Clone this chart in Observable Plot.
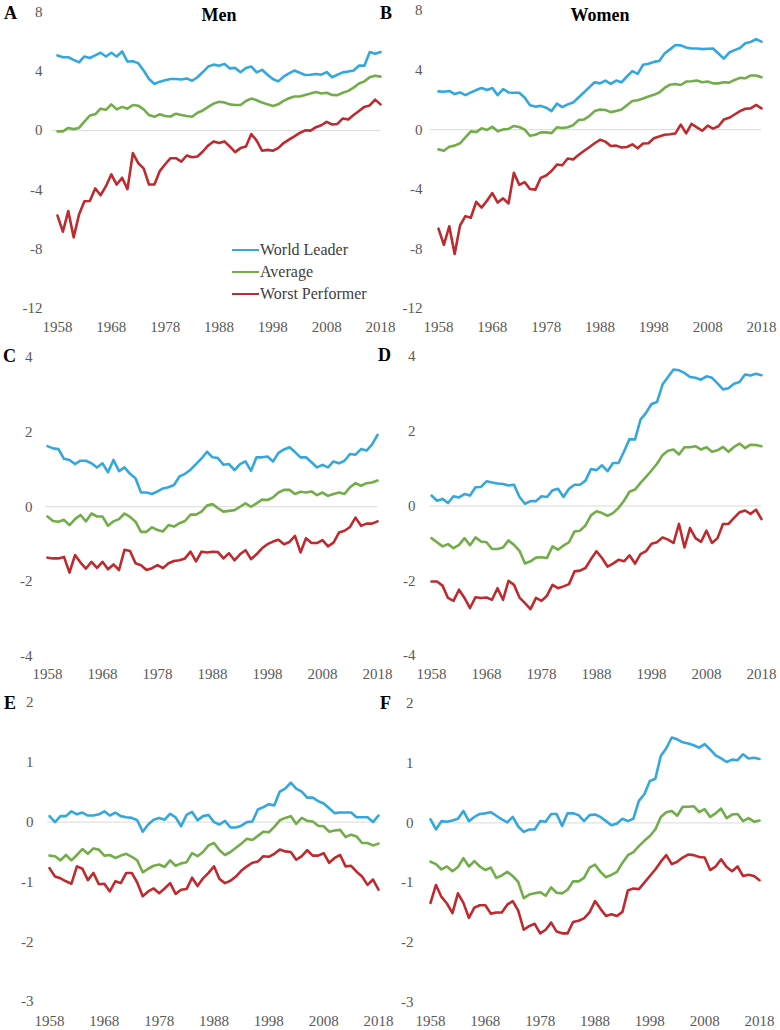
<!DOCTYPE html>
<html>
<head>
<meta charset="utf-8">
<script src="https://cdn.jsdelivr.net/npm/d3@7"></script>
<script src="https://cdn.jsdelivr.net/npm/@observablehq/plot@0.6"></script>
<style>
  body { margin: 0; background: #fff; }
  #wrap { position: relative; width: 780px; height: 1030px; font-family: "Liberation Serif", "Times New Roman", serif; overflow: hidden; }
  .abs { position: absolute; white-space: nowrap; }
  .letter { font-weight: bold; font-size: 18px; color: #000; line-height: 1; transform: translateY(-50%); }
  .title { font-weight: bold; font-size: 18px; color: #000; line-height: 1; transform: translate(-50%, -50%); }
  .leg { font-size: 16px; color: #404040; line-height: 1; transform: translateY(-50%); display: flex; align-items: center; }
  .sw { display: inline-block; width: 27px; height: 2.5px; margin-right: 1px; }
</style>
</head>
<body>
<div id="wrap"></div>
<script>
// ---------- data ----------
const years = d3.range(1958, 2019);
const xTicks = [1958, 1968, 1978, 1988, 1998, 2008, 2018];
const yTicksRow1 = [8, 4, 0, -4, -8, -12];
const yTicksRow2 = [4, 2, 0, -2, -4];
const yTicksRow3 = [2, 1, 0, -1, -2, -3];
const seriesNames = ["World Leader", "Average", "Worst Performer"];
const seriesColors = ["#34a7dc", "#72ad4a", "#be2a2e"];
const columnTitles = ["Men", "Women"];

// Panel A (Men)
const leaderA = [5.07,4.95,4.95,4.77,4.6,5.0,4.9,5.07,5.25,5.0, 5.25,5.0,5.34,4.66,4.68,4.55,4.05,3.48,3.14,3.3, 3.4,3.48,3.48,3.45,3.52,3.36,3.6,3.95,4.32,4.45, 4.38,4.5,4.2,4.23,3.93,4.23,4.32,3.93,4.1,3.77, 3.48,3.32,3.64,3.86,4.05,3.9,3.75,3.77,3.82,3.77, 3.95,3.6,3.77,3.93,3.98,4.05,4.38,4.38,5.3,5.18,5.3];
const averageA = [-0.05,-0.05,0.18,0.1,0.18,0.6,1.02,1.1,1.48,1.4, 1.77,1.43,1.6,1.48,1.73,1.68,1.43,1.05,0.93,1.1, 0.98,0.95,1.14,1.05,0.98,0.93,1.2,1.36,1.6,1.82, 1.95,1.89,1.77,1.73,1.73,2.0,2.16,2.05,1.89,1.77, 1.66,1.77,2.0,2.18,2.3,2.3,2.4,2.5,2.6,2.5, 2.55,2.4,2.39,2.55,2.68,2.9,3.18,3.32,3.6,3.7,3.64];
const worstA = [-5.73,-6.82,-5.43,-7.2,-5.66,-4.77,-4.75,-3.9,-4.36,-3.75, -2.95,-3.64,-3.18,-3.95,-1.52,-2.2,-2.55,-3.64,-3.64,-2.73, -2.27,-1.86,-1.86,-2.09,-1.68,-1.8,-1.75,-1.41,-1.0,-0.73, -0.84,-0.73,-1.07,-1.45,-1.18,-1.07,-0.23,-0.68,-1.36,-1.3, -1.36,-1.18,-0.84,-0.61,-0.39,-0.16,0.02,0.0,0.23,0.36, 0.59,0.41,0.45,0.82,0.75,1.05,1.32,1.6,1.7,2.09,1.77];

// Panel B (Women)
const leaderB = [2.57,2.55,2.6,2.39,2.5,2.32,2.5,2.66,2.8,2.66, 2.8,2.32,2.73,2.5,2.48,2.48,2.16,1.64,1.55,1.6, 1.48,1.25,1.75,1.52,1.7,1.82,2.16,2.5,2.84,3.18, 3.11,3.3,3.07,3.3,3.18,3.57,3.93,3.75,4.36,4.43, 4.55,4.61,5.11,5.39,5.68,5.66,5.52,5.45,5.45,5.41, 5.43,5.45,5.11,4.77,5.18,5.34,5.48,5.8,5.89,6.07,5.91];
const averageB = [-1.32,-1.41,-1.14,-1.07,-0.91,-0.52,-0.11,-0.16,0.09,-0.02, 0.2,-0.11,0.02,0.05,0.25,0.18,0.0,-0.41,-0.34,-0.18, -0.18,-0.23,0.16,0.11,0.16,0.3,0.64,0.68,0.91,1.25, 1.36,1.32,1.18,1.25,1.36,1.64,1.93,1.98,2.09,2.23, 2.34,2.5,2.8,3.02,3.07,3.0,3.23,3.25,3.3,3.18, 3.23,3.11,3.11,3.18,3.16,3.34,3.48,3.45,3.64,3.64,3.52];
const worstB = [-6.64,-7.73,-6.48,-8.34,-6.43,-5.8,-5.91,-4.84,-5.23,-4.77, -4.25,-4.89,-4.61,-4.95,-2.89,-3.7,-3.52,-3.98,-4.02,-3.23, -3.07,-2.77,-2.34,-2.39,-1.93,-2.0,-1.7,-1.43,-1.18,-0.91, -0.68,-0.8,-1.09,-1.07,-1.2,-1.16,-0.98,-1.25,-0.93,-0.91, -0.57,-0.45,-0.34,-0.3,-0.25,0.34,-0.25,0.39,0.16,-0.07, 0.27,0.07,0.23,0.68,0.8,1.02,1.25,1.41,1.43,1.66,1.43];

// Panel C (Men)
const leaderC = [1.62,1.56,1.54,1.28,1.25,1.14,1.23,1.23,1.16,1.05, 1.16,0.92,1.25,0.95,1.05,0.88,0.76,0.38,0.38,0.34, 0.41,0.49,0.52,0.58,0.81,0.88,0.99,1.14,1.29,1.47, 1.32,1.3,1.12,1.14,0.98,1.14,1.21,0.96,1.32,1.32, 1.34,1.21,1.44,1.53,1.59,1.46,1.32,1.32,1.19,1.05, 1.12,1.05,1.21,1.16,1.23,1.41,1.39,1.54,1.5,1.66,1.92];
const averageC = [-0.26,-0.38,-0.4,-0.35,-0.49,-0.33,-0.22,-0.39,-0.18,-0.26, -0.26,-0.51,-0.39,-0.33,-0.18,-0.27,-0.4,-0.67,-0.67,-0.55, -0.62,-0.66,-0.49,-0.53,-0.44,-0.38,-0.21,-0.21,-0.13,0.03, 0.07,-0.04,-0.13,-0.11,-0.09,0.0,0.09,0.0,0.09,0.19, 0.18,0.25,0.38,0.45,0.45,0.34,0.4,0.38,0.41,0.31, 0.38,0.29,0.34,0.38,0.34,0.52,0.63,0.56,0.63,0.65,0.7];
const worstC = [-1.36,-1.38,-1.38,-1.34,-1.76,-1.29,-1.49,-1.65,-1.47,-1.63, -1.47,-1.67,-1.54,-1.69,-1.15,-1.18,-1.51,-1.56,-1.69,-1.64, -1.56,-1.64,-1.51,-1.45,-1.43,-1.38,-1.2,-1.46,-1.2,-1.22, -1.2,-1.21,-1.38,-1.24,-1.43,-1.27,-1.16,-1.4,-1.27,-1.11, -1.0,-0.93,-0.88,-1.0,-0.94,-0.78,-1.22,-0.84,-0.97,-0.97, -0.89,-1.06,-0.96,-0.69,-0.64,-0.54,-0.29,-0.51,-0.45,-0.45,-0.39];

// Panel D (Women)
const leaderD = [0.28,0.14,0.19,0.08,0.26,0.23,0.32,0.28,0.5,0.51, 0.66,0.63,0.6,0.59,0.55,0.57,0.24,0.06,0.13,0.13, 0.26,0.24,0.42,0.46,0.24,0.46,0.57,0.57,0.68,0.99, 0.96,1.09,0.93,1.15,1.15,1.46,1.79,1.78,2.31,2.49, 2.73,2.78,3.25,3.45,3.65,3.63,3.56,3.45,3.43,3.38, 3.47,3.43,3.28,3.12,3.15,3.27,3.32,3.52,3.49,3.54,3.5];
const averageD = [-0.86,-0.97,-1.08,-1.02,-1.13,-1.04,-0.86,-1.05,-0.84,-0.95, -0.97,-1.15,-1.15,-1.11,-0.92,-1.04,-1.2,-1.54,-1.48,-1.38, -1.37,-1.39,-1.08,-1.17,-1.06,-0.97,-0.68,-0.66,-0.52,-0.25, -0.14,-0.19,-0.26,-0.19,-0.05,0.14,0.38,0.44,0.62,0.78, 0.95,1.13,1.36,1.48,1.51,1.38,1.57,1.57,1.6,1.51, 1.57,1.45,1.49,1.58,1.45,1.58,1.67,1.55,1.64,1.63,1.6];
const worstD = [-2.02,-2.02,-2.13,-2.46,-2.54,-2.24,-2.46,-2.73,-2.44,-2.46, -2.45,-2.51,-2.2,-2.51,-2.0,-2.11,-2.45,-2.6,-2.76,-2.46, -2.54,-2.4,-2.11,-2.2,-2.15,-2.09,-1.75,-1.73,-1.66,-1.42, -1.21,-1.39,-1.62,-1.54,-1.44,-1.48,-1.32,-1.54,-1.29,-1.21, -1.01,-0.97,-0.84,-0.9,-0.99,-0.48,-1.11,-0.59,-0.86,-0.96, -0.66,-0.99,-0.86,-0.48,-0.48,-0.32,-0.17,-0.12,-0.21,-0.1,-0.35];

// Panel E (Men)
const leaderE = [0.1,0.0,0.1,0.1,0.18,0.13,0.16,0.11,0.11,0.13, 0.18,0.11,0.16,0.1,0.08,0.07,0.03,-0.16,-0.04,0.04, 0.07,0.04,0.14,0.08,-0.07,0.12,0.17,0.03,0.1,0.12, 0.0,-0.04,0.02,-0.09,-0.09,-0.06,0.0,0.01,0.21,0.25, 0.3,0.28,0.51,0.56,0.66,0.56,0.51,0.41,0.41,0.35, 0.31,0.23,0.15,0.16,0.16,0.16,0.08,0.08,0.08,0.0,0.11];
const averageE = [-0.56,-0.57,-0.64,-0.55,-0.64,-0.55,-0.45,-0.53,-0.44,-0.46, -0.56,-0.55,-0.6,-0.56,-0.53,-0.58,-0.64,-0.84,-0.78,-0.73, -0.71,-0.75,-0.64,-0.73,-0.69,-0.67,-0.52,-0.57,-0.5,-0.39, -0.35,-0.47,-0.55,-0.5,-0.43,-0.36,-0.28,-0.3,-0.23,-0.16, -0.17,-0.08,0.03,0.07,0.1,-0.03,0.07,0.02,0.01,-0.06, -0.07,-0.16,-0.14,-0.13,-0.25,-0.21,-0.24,-0.35,-0.35,-0.39,-0.36];
const worstE = [-0.77,-0.91,-0.94,-0.99,-1.03,-0.74,-0.78,-0.97,-0.85,-1.04, -1.03,-1.16,-0.99,-1.02,-0.85,-0.85,-1.01,-1.24,-1.16,-1.11, -1.19,-1.11,-1.02,-1.2,-1.13,-1.12,-0.93,-1.07,-0.94,-0.85, -0.74,-0.95,-1.02,-0.98,-0.91,-0.81,-0.74,-0.68,-0.66,-0.57, -0.58,-0.53,-0.46,-0.49,-0.5,-0.63,-0.57,-0.47,-0.56,-0.56, -0.52,-0.68,-0.6,-0.55,-0.74,-0.73,-0.83,-0.91,-1.05,-0.96,-1.13];

// Panel F (Women)
const leaderF = [0.06,-0.11,0.03,0.02,0.04,0.07,0.2,0.03,0.1,0.15, 0.16,0.18,0.12,0.06,0.01,0.1,-0.06,-0.15,-0.11,-0.11, 0.03,0.02,0.15,0.15,-0.05,0.16,0.16,0.13,0.03,0.13, 0.14,0.1,0.03,-0.04,-0.01,0.07,0.03,0.07,0.37,0.48, 0.7,0.74,1.12,1.25,1.43,1.4,1.35,1.33,1.3,1.26, 1.32,1.23,1.13,1.08,1.02,1.06,1.05,1.15,1.08,1.09,1.07];
const averageF = [-0.65,-0.69,-0.78,-0.73,-0.81,-0.74,-0.59,-0.73,-0.64,-0.73, -0.79,-0.75,-0.92,-0.88,-0.82,-0.89,-0.99,-1.26,-1.2,-1.18, -1.16,-1.22,-1.08,-1.17,-1.18,-1.12,-0.98,-0.98,-0.92,-0.75, -0.7,-0.82,-0.91,-0.87,-0.82,-0.67,-0.54,-0.49,-0.39,-0.3, -0.22,-0.11,0.1,0.18,0.2,0.12,0.27,0.27,0.28,0.18, 0.23,0.1,0.16,0.24,0.08,0.14,0.15,0.03,0.08,0.02,0.04];
const worstF = [-1.34,-1.04,-1.24,-1.35,-1.51,-1.18,-1.34,-1.59,-1.42,-1.38, -1.38,-1.52,-1.5,-1.5,-1.37,-1.31,-1.47,-1.79,-1.73,-1.69, -1.85,-1.79,-1.67,-1.82,-1.85,-1.85,-1.66,-1.64,-1.6,-1.5, -1.31,-1.44,-1.56,-1.53,-1.56,-1.49,-1.13,-1.1,-1.11,-1.0, -0.89,-0.78,-0.65,-0.54,-0.69,-0.65,-0.58,-0.53,-0.54,-0.57, -0.58,-0.79,-0.73,-0.61,-0.74,-0.81,-0.73,-0.89,-0.87,-0.89,-0.96];

// ---------- layout ----------
const panels = [
  {letter: "A", left: 0,   top: 0,   height: 345, dataLeft: 57,  dataRight: 380, yTop: 11.5, yBot: 308,  domain: [-12, 8], ticks: yTicksRow1, yPad: 15, xPad: 13, gridExt: 5, series: [leaderA, averageA, worstA], lx: 4,   ly: 12.5},
  {letter: "B", left: 390, top: 0,   height: 345, dataLeft: 438, dataRight: 761, yTop: 10,   yBot: 308,  domain: [-12, 8], ticks: yTicksRow1, yPad: 16, xPad: 13, gridExt: 8, series: [leaderB, averageB, worstB], lx: 380, ly: 12.5},
  {letter: "C", left: 0,   top: 340, height: 350, dataLeft: 47,  dataRight: 377, yTop: 356.5, yBot: 656, domain: [-4, 4],  ticks: yTicksRow2, yPad: 15, xPad: 11.5, gridExt: 2, series: [leaderC, averageC, worstC], lx: 3,   ly: 356},
  {letter: "D", left: 390, top: 340, height: 350, dataLeft: 431, dataRight: 761, yTop: 356,  yBot: 655,  domain: [-4, 4],  ticks: yTicksRow2, yPad: 16, xPad: 12.5, gridExt: 1, series: [leaderD, averageD, worstD], lx: 378, ly: 355},
  {letter: "E", left: 0,   top: 690, height: 340, dataLeft: 49,  dataRight: 378, yTop: 702,  yBot: 1001, domain: [-3, 2],  ticks: yTicksRow3, yPad: 16, xPad: 13.5, gridExt: 2, series: [leaderE, averageE, worstE], lx: 4,   ly: 703},
  {letter: "F", left: 390, top: 690, height: 340, dataLeft: 430, dataRight: 759, yTop: 703,  yBot: 1001.5, domain: [-3, 2], ticks: yTicksRow3, yPad: 17, xPad: 13, gridExt: 0, series: [leaderF, averageF, worstF], lx: 380, ly: 703}
];

const wrap = document.getElementById("wrap");

function addDiv(cls, text, x, y) {
  const d = document.createElement("div");
  d.className = "abs " + cls;
  d.textContent = text;
  d.style.left = x + "px";
  d.style.top = y + "px";
  wrap.appendChild(d);
  return d;
}

for (const p of panels) {
  const rows = [];
  p.series.forEach((arr, si) => {
    arr.forEach((v, i) => rows.push({year: years[i], value: v, series: seriesNames[si]}));
  });
  const W = 390;
  const svg = Plot.plot({
    width: W,
    height: p.height,
    marginLeft: p.dataLeft - p.left,
    marginRight: p.left + W - p.dataRight,
    marginTop: p.yTop - p.top,
    marginBottom: p.top + p.height - p.yBot,
    style: {fontFamily: "'Liberation Serif', 'Times New Roman', serif", fontSize: "15px", color: "#595959", background: "transparent", overflow: "visible"},
    x: {domain: [years[0], years[years.length - 1]]},
    y: {domain: p.domain},
    color: {domain: seriesNames, range: seriesColors},
    marks: [
      Plot.ruleY([0], {stroke: "#d9d9d9", strokeWidth: 1, insetLeft: -p.gridExt}),
      Plot.lineY(rows, {x: "year", y: "value", z: "series", stroke: "series", strokeWidth: 2.6, strokeLinejoin: "round", strokeLinecap: "round"}),
      Plot.axisY(p.ticks, {tickSize: 0, tickPadding: p.yPad, label: null, fill: "#595959", tickFormat: d => String(d)}),
      Plot.axisX(xTicks, {tickSize: 0, tickPadding: p.xPad, label: null, fill: "#595959", tickFormat: d => String(d)})
    ]
  });
  svg.style.position = "absolute";
  svg.style.left = p.left + "px";
  svg.style.top = p.top + "px";
  wrap.appendChild(svg);
  addDiv("letter", p.letter, p.lx, p.ly);
}

// column titles
addDiv("title", columnTitles[0], 219, 15);
addDiv("title", columnTitles[1], 600, 15);

// legend (panel A)
const legendY = [250, 272, 294];
seriesNames.forEach((name, i) => {
  const d = document.createElement("div");
  d.className = "abs leg";
  d.style.left = "232px";
  d.style.top = legendY[i] + "px";
  const sw = document.createElement("span");
  sw.className = "sw";
  sw.style.background = seriesColors[i];
  d.appendChild(sw);
  d.appendChild(document.createTextNode(name));
  wrap.appendChild(d);
});
</script>
</body>
</html>
